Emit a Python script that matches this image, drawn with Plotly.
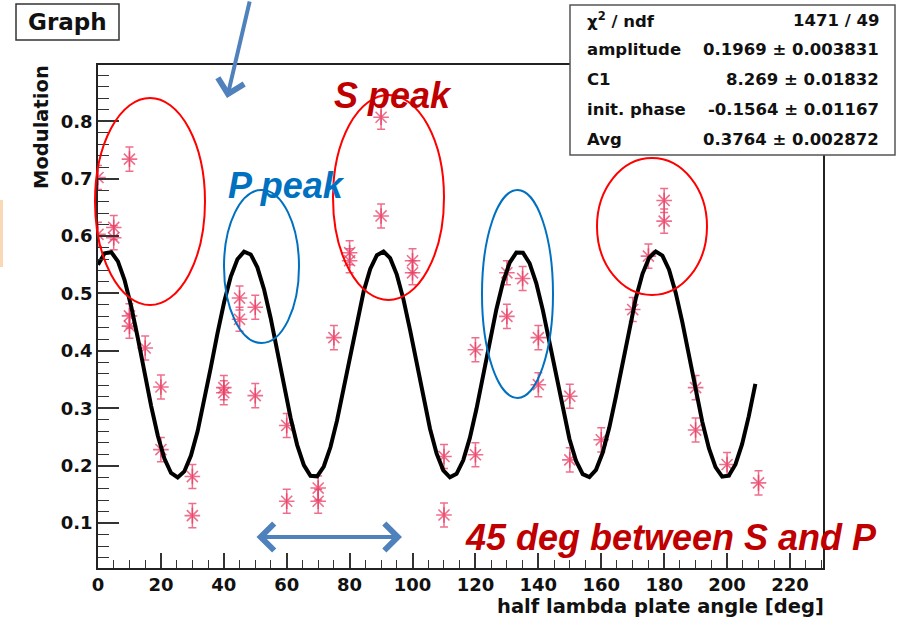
import numpy as np
import plotly.graph_objects as go

# ---- measured modulation vs. half-wave-plate angle ----
angle_deg = [0, 0, 5, 5, 10, 10, 10, 15, 20, 20, 30, 30, 40, 40, 45, 45, 50, 50,
             60, 60, 70, 70, 75, 80, 80, 90, 90, 100, 100, 110, 110, 120, 120,
             130, 130, 135, 140, 140, 150, 150, 160, 170, 175, 180, 180, 190, 190,
             200, 210]
modulation = [0.702, 0.603, 0.615, 0.597, 0.734, 0.461, 0.443, 0.405, 0.337, 0.228,
              0.181, 0.113, 0.336, 0.327, 0.492, 0.455, 0.476, 0.322, 0.270, 0.138,
              0.161, 0.138, 0.423, 0.571, 0.557, 0.807, 0.635, 0.557, 0.536, 0.216,
              0.114, 0.402, 0.219, 0.536, 0.460, 0.526, 0.423, 0.341, 0.321, 0.210,
              0.245, 0.472, 0.565, 0.662, 0.626, 0.336, 0.262, 0.202, 0.170]
modulation_err = 0.021

# ---- fit result ----
chi2_ndf = "1471 / 49"
amplitude, amplitude_err = 0.1969, 0.003831
c1, c1_err = 8.269, 0.01832
init_phase, init_phase_err = -0.1564, 0.01167
avg, avg_err = 0.3764, 0.002872

FIT_RANGE = (0.0, 209.0)
NPX = 100

x_fit = np.linspace(FIT_RANGE[0], FIT_RANGE[1], NPX)
y_fit = avg + amplitude * np.cos(np.pi * (c1 * x_fit / 180.0 + init_phase))

# ---- canvas geometry ----
W, H = 901, 622
M = dict(l=98, r=78, t=65, b=54)


def px_x(px):
    return (px - M["l"]) / (W - M["l"] - M["r"])


def px_y(py):
    return (H - M["b"] - py) / (H - M["t"] - M["b"])


ROOT_FONT = "DejaVu Sans"
NOTE_FONT = "Liberation Sans, Arial"
STAR = "rgba(232,62,100,0.75)"
RED = "#c00000"
BLUE_TXT = "#0070c0"
ARROW = "#4f81bd"


def label(text, px, py, font, xanchor="center", yanchor="middle", **kw):
    return dict(text=text, xref="paper", yref="paper", x=px_x(px), y=px_y(py),
                xanchor=xanchor, yanchor=yanchor, showarrow=False, font=font,
                **kw)


fig = go.Figure()

fig.add_trace(go.Scatter(
    x=angle_deg, y=modulation, mode="markers",
    marker=dict(symbol="asterisk-open", size=13, color=STAR,
                line=dict(color=STAR, width=1.6)),
    error_y=dict(type="constant", value=modulation_err, color=STAR,
                 thickness=1.5, width=4),
    showlegend=False, hoverinfo="x+y",
))

fig.add_trace(go.Scatter(
    x=x_fit, y=y_fit, mode="lines",
    line=dict(color="black", width=4),
    showlegend=False,
))

axis_common = dict(
    showgrid=False, zeroline=False, showline=True, linecolor="#222",
    linewidth=1.5, mirror=True, ticks="inside", tickcolor="#333",
    tickwidth=1.6, tickfont=dict(family=ROOT_FONT, size=18, color="#111",
                                 weight="bold"),
)

fig.update_xaxes(range=[0, 230.5], tick0=0, dtick=20, ticklen=15,
                 minor=dict(dtick=5, ticklen=8, tickwidth=1.3,
                            tickcolor="#333", ticks="inside"),
                 **axis_common)
fig.update_yaxes(range=[0.0217, 0.898], tick0=0, dtick=0.1, ticklen=21,
                 tickformat=".1f",
                 minor=dict(dtick=0.02, ticklen=11, tickwidth=1.3,
                            tickcolor="#333", ticks="inside"),
                 **axis_common)

shapes = []
annotations = []

# stray slide element at the far left
shapes.append(dict(type="rect", xref="paper", yref="paper",
                   x0=px_x(0), x1=px_x(3), y0=px_y(267), y1=px_y(200),
                   fillcolor="#f8d8b5", line=dict(width=0), layer="above"))

# "Graph" title box
shapes.append(dict(type="rect", xref="paper", yref="paper",
                   x0=px_x(16), x1=px_x(119), y0=px_y(40), y1=px_y(4),
                   fillcolor="white", line=dict(color="#333", width=1.5)))
annotations.append(label("Graph", 67.5, 22,
                         dict(family=ROOT_FONT, size=23, color="#111",
                              weight="bold")))

# statistics box
shapes.append(dict(type="rect", xref="paper", yref="paper",
                   x0=px_x(570), x1=px_x(895), y0=px_y(155), y1=px_y(5),
                   fillcolor="white", line=dict(color="#555", width=1.5)))
stat_rows = [
    ("χ<sup>2</sup> / ndf", chi2_ndf),
    ("amplitude", f"{amplitude:.4f} ± {amplitude_err:.6f}"),
    ("C1", f"{c1:.3f} ± {c1_err:.5f}"),
    ("init. phase", f"{init_phase:.4f} ± {init_phase_err:.5f}"),
    ("Avg", f"{avg:.4f} ± {avg_err:.6f}"),
]
stat_font = dict(family=ROOT_FONT, size=16.5, color="#111", weight="bold")
for i, (name, value) in enumerate(stat_rows):
    row_y = 20 + 29.8 * i
    annotations.append(label(name, 585, row_y, stat_font, xanchor="left"))
    annotations.append(label(value, 881, row_y, stat_font, xanchor="right"))

# axis titles
title_font = dict(family=ROOT_FONT, size=19.5, color="#111", weight="bold")
annotations.append(label("Modulation", 41, 127, title_font, textangle=-90))
annotations.append(label("half lambda plate angle [deg]", 826, 606, title_font,
                         xanchor="right"))

# peak ellipses
ellipses = [
    (95, 205, 98, 305, "red"),
    (333, 444, 95, 300, "red"),
    (597, 707, 158, 295, "red"),
    (224, 299, 190, 343, "#0070c0"),
    (482, 553, 190, 398, "#0070c0"),
]
for x0, x1, y0, y1, col in ellipses:
    shapes.append(dict(type="circle", xref="paper", yref="paper",
                       x0=px_x(x0), x1=px_x(x1), y0=px_y(y1), y1=px_y(y0),
                       line=dict(color=col, width=2), layer="above"))

# slide notes
note_font = dict(family=NOTE_FONT, size=36, weight="bold", style="italic")
annotations.append(label("S peak", 393, 95, dict(color=RED, **note_font)))
annotations.append(label("P peak", 286, 185, dict(color=BLUE_TXT, **note_font)))
annotations.append(label("45 deg between S and P", 671, 537,
                         dict(color=RED, **note_font)))

# arrows
annotations.append(dict(text="", xref="paper", yref="paper",
                        x=px_x(227), y=px_y(98), ax=23, ay=-105,
                        showarrow=True, arrowhead=4, arrowsize=1.3,
                        arrowwidth=4, arrowcolor=ARROW))
annotations.append(dict(text="", xref="paper", yref="paper",
                        x=px_x(402), y=px_y(537), ax=-147, ay=0,
                        showarrow=True, arrowhead=4, startarrowhead=4,
                        arrowside="end+start", arrowsize=1.3,
                        startarrowsize=1.3, arrowwidth=4, arrowcolor=ARROW))

fig.update_layout(
    width=W, height=H, margin=M,
    paper_bgcolor="white", plot_bgcolor="white",
    shapes=shapes, annotations=annotations,
    showlegend=False,
)

fig.write_html("out.html")
